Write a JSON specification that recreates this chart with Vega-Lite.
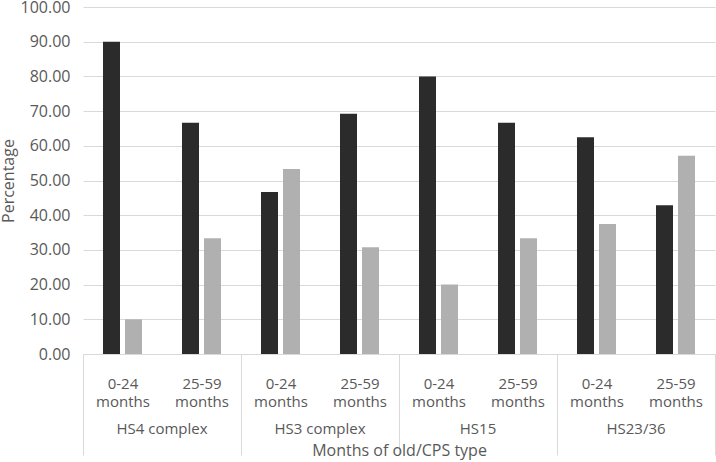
{
  "$schema": "https://vega.github.io/schema/vega-lite/v6.json",
  "autosize": {"type": "none"},
  "padding": {"left": 83, "top": 7, "right": 1, "bottom": 108},
  "width": 632,
  "height": 347,
  "background": "white",
  "config": {
    "font": "Open Sans",
    "view": {"stroke": null},
    "axis": {"labelFont": "Open Sans", "titleFont": "Open Sans", "labelColor": "#595959", "titleColor": "#595959", "titleFontWeight": "normal"}
  },
  "data": {
    "values": [
      {"group": "HS4 complex", "sub": "0-24 months", "cat": "HS4 complex|0-24 months", "series": "Series 1", "value": 90.0},
      {"group": "HS4 complex", "sub": "0-24 months", "cat": "HS4 complex|0-24 months", "series": "Series 2", "value": 10.0},
      {"group": "HS4 complex", "sub": "25-59 months", "cat": "HS4 complex|25-59 months", "series": "Series 1", "value": 66.67},
      {"group": "HS4 complex", "sub": "25-59 months", "cat": "HS4 complex|25-59 months", "series": "Series 2", "value": 33.33},
      {"group": "HS3 complex", "sub": "0-24 months", "cat": "HS3 complex|0-24 months", "series": "Series 1", "value": 46.67},
      {"group": "HS3 complex", "sub": "0-24 months", "cat": "HS3 complex|0-24 months", "series": "Series 2", "value": 53.33},
      {"group": "HS3 complex", "sub": "25-59 months", "cat": "HS3 complex|25-59 months", "series": "Series 1", "value": 69.23},
      {"group": "HS3 complex", "sub": "25-59 months", "cat": "HS3 complex|25-59 months", "series": "Series 2", "value": 30.77},
      {"group": "HS15", "sub": "0-24 months", "cat": "HS15|0-24 months", "series": "Series 1", "value": 80.0},
      {"group": "HS15", "sub": "0-24 months", "cat": "HS15|0-24 months", "series": "Series 2", "value": 20.0},
      {"group": "HS15", "sub": "25-59 months", "cat": "HS15|25-59 months", "series": "Series 1", "value": 66.67},
      {"group": "HS15", "sub": "25-59 months", "cat": "HS15|25-59 months", "series": "Series 2", "value": 33.33},
      {"group": "HS23/36", "sub": "0-24 months", "cat": "HS23/36|0-24 months", "series": "Series 1", "value": 62.5},
      {"group": "HS23/36", "sub": "0-24 months", "cat": "HS23/36|0-24 months", "series": "Series 2", "value": 37.5},
      {"group": "HS23/36", "sub": "25-59 months", "cat": "HS23/36|25-59 months", "series": "Series 1", "value": 42.86},
      {"group": "HS23/36", "sub": "25-59 months", "cat": "HS23/36|25-59 months", "series": "Series 2", "value": 57.14}
    ]
  },
  "layer": [
    {
      "mark": {"type": "bar"},
      "encoding": {
        "x": {
          "field": "cat", "type": "nominal", "sort": null,
          "scale": {"paddingInner": 0, "paddingOuter": 0},
          "axis": {
            "title": "Months of old/CPS type",
            "titleFontSize": 16,
            "titleY": 96,
            "titleBaseline": "middle",
            "labelAngle": 0,
            "labelFontSize": 15,
            "labelLineHeight": 18,
            "labelBaseline": "top",
            "labelPadding": -79,
            "labelExpr": "isString(datum.value) ? split(split(datum.value, '|')[1], ' ') : ''",
            "domainColor": "#d9d9d9",
            "tickBand": "extent",
            "tickSize": 101,
            "tickColor": {"condition": {"test": "!isString(datum.value) || test(/25-59/, datum.value)", "value": "#d9d9d9"}, "value": "transparent"},
            "grid": false
          }
        },
        "xOffset": {"field": "series", "type": "nominal", "sort": null, "scale": {"paddingInner": 0.227, "paddingOuter": 0.909}},
        "y": {
          "field": "value", "type": "quantitative",
          "scale": {"domain": [0, 100], "nice": false},
          "axis": {
            "title": "Percentage",
            "titleFontSize": 16,
            "titlePadding": 4,
            "values": [0, 10, 20, 30, 40, 50, 60, 70, 80, 90, 100],
            "labelOverlap": false,
            "format": ".2f",
            "labelFontSize": 16,
            "labelPadding": 13,
            "ticks": false,
            "domain": false,
            "grid": true,
            "gridColor": "#d9d9d9"
          }
        },
        "color": {"field": "series", "type": "nominal", "scale": {"range": ["#2b2b2b", "#b0b0b0"]}, "legend": null}
      }
    },
    {
      "transform": [{"filter": "datum.sub == '25-59 months' && datum.series == 'Series 1'"}],
      "mark": {"type": "text", "fontSize": 15, "color": "#595959", "baseline": "middle", "dy": 75, "font": "Open Sans"},
      "encoding": {
        "x": {
          "field": "cat", "type": "nominal", "sort": null, "bandPosition": 0,
          "axis": {
            "title": "Months of old/CPS type",
            "titleFontSize": 16,
            "titleY": 96,
            "titleBaseline": "middle",
            "labelAngle": 0,
            "labelFontSize": 15,
            "labelLineHeight": 18,
            "labelBaseline": "top",
            "labelPadding": -79,
            "labelExpr": "isString(datum.value) ? split(split(datum.value, '|')[1], ' ') : ''",
            "domainColor": "#d9d9d9",
            "tickBand": "extent",
            "tickSize": 101,
            "tickColor": {"condition": {"test": "!isString(datum.value) || test(/25-59/, datum.value)", "value": "#d9d9d9"}, "value": "transparent"},
            "grid": false
          }
        },
        "y": {
          "datum": 0, "type": "quantitative",
          "axis": {
            "title": "Percentage",
            "titleFontSize": 16,
            "titlePadding": 4,
            "values": [0, 10, 20, 30, 40, 50, 60, 70, 80, 90, 100],
            "labelOverlap": false,
            "format": ".2f",
            "labelFontSize": 16,
            "labelPadding": 13,
            "ticks": false,
            "domain": false,
            "grid": true,
            "gridColor": "#d9d9d9"
          }
        },
        "text": {"field": "group"}
      }
    }
  ]
}
